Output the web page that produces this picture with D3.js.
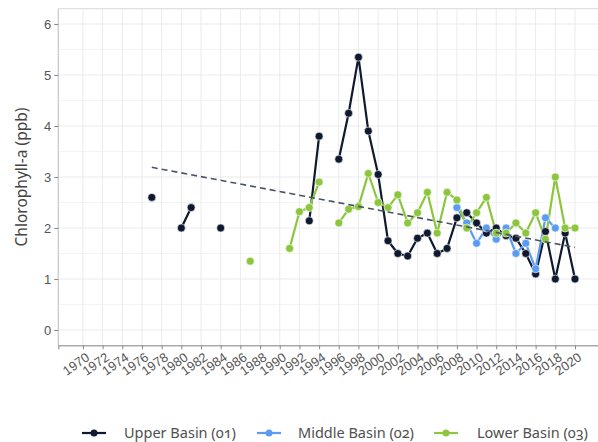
<!DOCTYPE html>
<html><head><meta charset="utf-8">
<script src="https://cdn.jsdelivr.net/npm/d3@7"></script>
<style>
body{margin:0;background:#fff;}
svg{display:block;font-family:"Noto Sans",Lato,sans-serif;}
.onum{font-variant-numeric:oldstyle-nums;}
</style></head>
<body><svg id="c" width="598" height="442"></svg>
<script>
const years = d3.range(1970, 2021);
const upperYears = [1977,1980,1981,1984,1993,1994,1996,1997,1998,1999,2000,2001,2002,2003,2004,2005,2006,2007,2008,2009,2010,2011,2012,2013,2014,2015,2016,2017,2018,2019,2020];
const upperValues = [2.6,2.0,2.4,2.0,2.14,3.8,3.35,4.25,5.35,3.9,3.05,1.75,1.5,1.45,1.8,1.9,1.5,1.6,2.2,2.3,2.1,1.9,2.0,1.85,1.8,1.5,1.1,1.93,1.0,1.9,1.0];
const middleYears = [2008,2009,2010,2011,2012,2013,2014,2015,2016,2017,2018];
const middleValues = [2.4,2.1,1.7,2.0,1.78,2.0,1.5,1.7,1.2,2.2,2.0];
const lowerYears = [1987,1991,1992,1993,1994,1996,1997,1998,1999,2000,2001,2002,2003,2004,2005,2006,2007,2008,2009,2010,2011,2012,2013,2014,2015,2016,2017,2018,2019,2020];
const lowerValues = [1.35,1.6,2.32,2.4,2.9,2.1,2.37,2.42,3.07,2.5,2.4,2.65,2.1,2.3,2.7,1.9,2.7,2.55,2.0,2.3,2.6,1.9,1.9,2.1,1.9,2.3,1.78,3.0,2.0,2.0];
const trendYears = [1977, 2020];
const trendValues = [3.19, 1.62];
const xTickLabels = d3.range(1970, 2021, 2).map(String);
const yTickLabels = ["0","1","2","3","4","5","6"];
const seriesNames = ["Upper Basin (01)", "Middle Basin (02)", "Lower Basin (03)"];
const seriesColors = ["#0f1a30", "#5b9cf2", "#8cc63f"];

const svg = d3.select("#c");
const L = 58.3, T = 8.7, B = 345.3, R = 599.6;
const x = d3.scaleLinear().domain([1967.5, 2022.5]).range([L, R]);
const y = d3.scaleLinear().domain([-0.3, 6.3]).range([B, T]);

// grid
const g = svg.append("g");
d3.range(-0, 6.01, 0.5).forEach(v => {
  g.append("line").attr("x1", L).attr("x2", R).attr("y1", y(v)).attr("y2", y(v))
   .attr("stroke", Number.isInteger(v) ? "#ebebeb" : "#f4f4f4").attr("stroke-width", 1);
});
xTickLabels.forEach(t => {
  g.append("line").attr("y1", T).attr("y2", B).attr("x1", x(+t)).attr("x2", x(+t))
   .attr("stroke", "#ebebeb").attr("stroke-width", 1);
});
// panel border
svg.append("line").attr("x1", L).attr("x2", R).attr("y1", T).attr("y2", T).attr("stroke", "#d9d9d9");
svg.append("line").attr("x1", L).attr("x2", L).attr("y1", T).attr("y2", B).attr("stroke", "#c8c8c8").attr("stroke-width", 1.2);

// axes
const xAxis = svg.append("g").attr("transform", `translate(0,${B})`)
  .call(d3.axisBottom(x).tickValues(xTickLabels.map(Number)).tickSize(4).tickFormat((d,i)=>xTickLabels[i]));
xAxis.select(".domain").attr("stroke", "#aaa").attr("stroke-width", 1.5);
xAxis.selectAll(".tick line").attr("stroke", "#888");
xAxis.selectAll(".tick text").attr("class","onum").attr("fill", "#555").attr("font-size", 13)
  .attr("text-anchor", "end").attr("dy", null).attr("y", 0)
  .attr("transform", "translate(7,14) rotate(-35)");

const yAxis = svg.append("g").attr("transform", `translate(${L},0)`)
  .call(d3.axisLeft(y).tickValues(yTickLabels.map(Number)).tickSize(4).tickFormat((d,i)=>yTickLabels[i]));
yAxis.select(".domain").remove();
yAxis.selectAll(".tick line").attr("stroke", "#888");
yAxis.selectAll(".tick text").attr("fill", "#555").attr("font-size", 13);

svg.append("text").attr("transform", `translate(27,${(T+B)/2}) rotate(-90)`)
  .attr("text-anchor", "middle").attr("fill", "#444").attr("font-size", 15.5)
  .text("Chlorophyll-a (ppb)");

// series
function toSeries(ys, vs) {
  const m = new Map(ys.map((yy, i) => [yy, vs[i]]));
  return years.map(yy => ({year: yy, value: m.has(yy) ? m.get(yy) : null}));
}
const series = [toSeries(upperYears, upperValues), toSeries(middleYears, middleValues), toSeries(lowerYears, lowerValues)];
const line = d3.line().defined(d => d.value !== null).x(d => x(d.year)).y(d => y(d.value));
series.forEach((s, i) => {
  svg.append("path").datum(s).attr("d", line).attr("fill", "none")
    .attr("stroke", seriesColors[i]).attr("stroke-width", 2.2).attr("stroke-linejoin", "round");
});
series.forEach((s, i) => {
  svg.append("g").selectAll("circle").data(s.filter(d => d.value !== null)).join("circle")
    .attr("cx", d => x(d.year)).attr("cy", d => y(d.value)).attr("r", 4)
    .attr("fill", seriesColors[i]).attr("stroke", "#fff").attr("stroke-width", 0.6);
});
svg.append("path").datum(trendYears.map((yy, i) => ({year: yy, value: trendValues[i]})))
  .attr("d", line).attr("fill", "none").attr("stroke", "#4a5366").attr("stroke-width", 1.6)
  .attr("stroke-dasharray", "6,4");

// legend
const legX = [94, 269, 446], legTX = [124, 298, 477], legY = 433;
seriesNames.forEach((n, i) => {
  svg.append("line").attr("x1", legX[i]-12).attr("x2", legX[i]+12).attr("y1", legY).attr("y2", legY)
    .attr("stroke", seriesColors[i]).attr("stroke-width", 2.2);
  svg.append("circle").attr("cx", legX[i]).attr("cy", legY).attr("r", 3.5).attr("fill", seriesColors[i]);
  svg.append("text").attr("class","onum").attr("x", legTX[i]).attr("y", legY).attr("dy", "0.35em")
    .attr("fill", "#505050").attr("font-size", 14.5).text(n);
});
</script></body></html>
